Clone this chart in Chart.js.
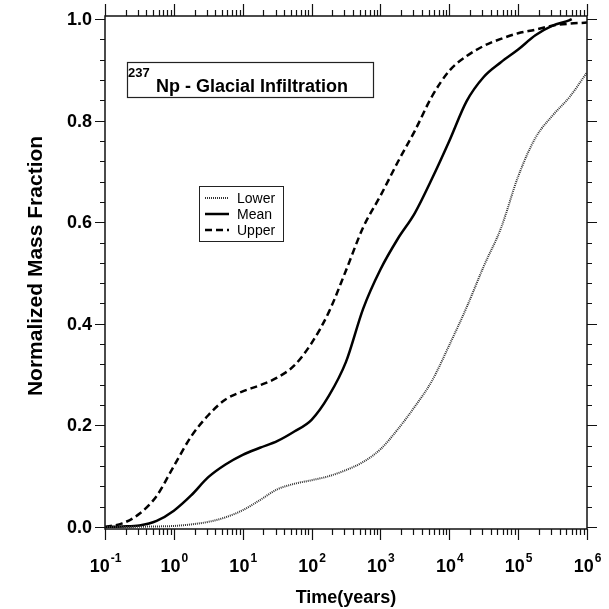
<!DOCTYPE html>
<html>
<head>
<meta charset="utf-8">
<script src="https://cdn.jsdelivr.net/npm/chart.js@4.4.1/dist/chart.umd.min.js"></script>
<style>
  html, body { margin: 0; padding: 0; background: #fff; }
  #wrap { width: 609px; height: 609px; }
</style>
</head>
<body>
<div id="wrap"><canvas id="chart" width="609" height="609"></canvas></div>
<script>
// ── Data ──────────────────────────────────────────────────────────────────────
const timeYears = [0.1, 0.178, 0.316, 0.562, 1, 1.78, 3.16, 5.62, 10, 17.8, 31.6, 56.2,
  100, 178, 316, 562, 1000, 1780, 3160, 5620, 1e4, 17800, 31600, 56200,
  1e5, 178000, 316000, 562000, 1e6];
const meanTime = [0.1, 0.178, 0.316, 0.562, 1, 1.78, 3.16, 5.62, 10, 17.8, 31.6, 56.2,
  100, 178, 316, 562, 1000, 1780, 3160, 5620, 1e4, 17800, 31600, 56200,
  1e5, 178000, 316000, 562000, 600000];

const lowerVals = [0, 0, 0.0005, 0.001, 0.002, 0.005, 0.01, 0.019, 0.033, 0.053, 0.074, 0.085,
  0.092, 0.1, 0.112, 0.128, 0.153, 0.192, 0.237, 0.288, 0.358, 0.432, 0.513, 0.588,
  0.69, 0.766, 0.81, 0.847, 0.895];
const meanVals = [0, 0.001, 0.003, 0.012, 0.032, 0.062, 0.098, 0.123, 0.142, 0.156, 0.169, 0.188,
  0.211, 0.258, 0.325, 0.43, 0.507, 0.567, 0.618, 0.686, 0.76, 0.838, 0.886, 0.915,
  0.94, 0.968, 0.987, 0.998, 1.0];
const upperVals = [0, 0.007, 0.026, 0.061, 0.12, 0.178, 0.22, 0.251, 0.267, 0.279, 0.294, 0.318,
  0.362, 0.423, 0.505, 0.59, 0.652, 0.718, 0.78, 0.848, 0.898, 0.927, 0.947, 0.961,
  0.972, 0.979, 0.987, 0.991, 0.993];

const seriesNames = ['Lower', 'Mean', 'Upper'];
const yTickVals = [0, 0.2, 0.4, 0.6, 0.8, 1.0];
const yTickLabels = ['0.0', '0.2', '0.4', '0.6', '0.8', '1.0'];
const xDecades = [-1, 0, 1, 2, 3, 4, 5, 6];

const pts = (xs, ys) => xs.map((x, i) => ({ x, y: ys[i] }));
const FONT = '"Liberation Sans", Arial, sans-serif';

// ── Frame, ticks, labels, title and legend ────────────────────────────────────
const framePlugin = {
  id: 'frame',
  afterDraw(chart) {
    const ctx = chart.ctx;
    const a = chart.chartArea;
    const xs = chart.scales.x, ys = chart.scales.y;
    ctx.save();
    ctx.strokeStyle = '#111';
    ctx.lineWidth = 1.5;
    ctx.strokeRect(a.left, a.top, a.right - a.left, a.bottom - a.top);

    ctx.lineWidth = 1.2;
    ctx.beginPath();
    // y ticks, left and right, outward
    for (let v = 0; v <= 1.0001; v += 0.04) {
      const py = Math.round(ys.getPixelForValue(v)) + 0.5;
      const major = Math.abs(v / 0.2 - Math.round(v / 0.2)) < 1e-6;
      const len = major ? 10 : 5;
      ctx.moveTo(a.left - len, py); ctx.lineTo(a.left, py);
      ctx.moveTo(a.right, py); ctx.lineTo(a.right + len, py);
    }
    // x ticks, bottom and top, outward
    xDecades.forEach(e => {
      const base = Math.pow(10, e);
      const px = Math.round(xs.getPixelForValue(base)) + 0.5;
      ctx.moveTo(px, a.bottom); ctx.lineTo(px, a.bottom + 11);
      ctx.moveTo(px, a.top); ctx.lineTo(px, a.top - 12);
      if (e < 6) {
        for (let k = 2; k <= 9; k++) {
          const mx = Math.round(xs.getPixelForValue(k * base)) + 0.5;
          ctx.moveTo(mx, a.bottom); ctx.lineTo(mx, a.bottom + 6);
          ctx.moveTo(mx, a.top); ctx.lineTo(mx, a.top - 6);
        }
      }
    });
    ctx.stroke();

    // y tick labels
    ctx.fillStyle = '#000';
    ctx.font = 'bold 18px ' + FONT;
    ctx.textAlign = 'right';
    ctx.textBaseline = 'middle';
    yTickVals.forEach((v, i) => {
      ctx.fillText(yTickLabels[i], a.left - 13, ys.getPixelForValue(v) + 1);
    });

    // x tick labels 10^n
    ctx.textBaseline = 'alphabetic';
    ctx.textAlign = 'left';
    xDecades.forEach(e => {
      const px = xs.getPixelForValue(Math.pow(10, e));
      ctx.font = 'bold 18px ' + FONT;
      const wb = ctx.measureText('10').width;
      ctx.font = 'bold 12px ' + FONT;
      const we = ctx.measureText(String(e)).width;
      const x0 = px - (wb + we) / 2;
      ctx.font = 'bold 18px ' + FONT;
      ctx.fillText('10', x0, 572);
      ctx.font = 'bold 12px ' + FONT;
      ctx.fillText(String(e), x0 + wb + 1, 562);
    });

    // axis titles
    ctx.font = 'bold 18px ' + FONT;
    ctx.textAlign = 'center';
    ctx.fillText('Time(years)', (a.left + a.right) / 2, 603);
    ctx.save();
    ctx.translate(42, 266);
    ctx.rotate(-Math.PI / 2);
    ctx.font = 'bold 21px ' + FONT;
    ctx.fillText('Normalized Mass Fraction', 0, 0);
    ctx.restore();

    // title box
    ctx.fillStyle = '#fff';
    ctx.fillRect(127, 62, 246, 35);
    ctx.strokeStyle = '#222';
    ctx.lineWidth = 1.2;
    ctx.strokeRect(127.5, 62.5, 246, 35);
    ctx.fillStyle = '#000';
    ctx.textAlign = 'left';
    ctx.font = 'bold 13px ' + FONT;
    ctx.fillText('237', 128, 77);
    ctx.font = 'bold 18px ' + FONT;
    ctx.fillText('Np - Glacial Infiltration', 156, 92);

    // legend box
    ctx.fillStyle = '#fff';
    ctx.fillRect(199, 186, 84, 55);
    ctx.strokeStyle = '#222';
    ctx.lineWidth = 1;
    ctx.strokeRect(199.5, 186.5, 84, 55);
    const rows = [198, 214, 230];
    chart.data.datasets.forEach((ds, i) => {
      ctx.save();
      ctx.strokeStyle = ds.borderColor;
      ctx.lineWidth = ds.borderWidth;
      ctx.setLineDash(ds.borderDash || []);
      ctx.beginPath();
      ctx.moveTo(205, rows[i]); ctx.lineTo(229, rows[i]);
      ctx.stroke();
      ctx.restore();
      ctx.fillStyle = '#000';
      ctx.font = '14px ' + FONT;
      ctx.textBaseline = 'middle';
      ctx.fillText(seriesNames[i], 237, rows[i] + 1);
    });
    ctx.restore();
  }
};

// ── Chart ─────────────────────────────────────────────────────────────────────
const ctx = document.getElementById('chart').getContext('2d');
new Chart(ctx, {
  type: 'line',
  data: {
    datasets: [
      { label: seriesNames[0], data: pts(timeYears, lowerVals), borderColor: '#333',
        borderWidth: 2, borderDash: [1, 1], pointRadius: 0, cubicInterpolationMode: 'monotone' },
      { label: seriesNames[1], data: pts(meanTime, meanVals), borderColor: '#000',
        borderWidth: 2.5, pointRadius: 0, cubicInterpolationMode: 'monotone' },
      { label: seriesNames[2], data: pts(timeYears, upperVals), borderColor: '#000',
        borderWidth: 2.5, borderDash: [7, 4], pointRadius: 0, cubicInterpolationMode: 'monotone' }
    ]
  },
  options: {
    responsive: false,
    animation: false,
    devicePixelRatio: 1,
    layout: { padding: { left: 105, top: 16, right: 22, bottom: 80 } },
    plugins: { legend: { display: false }, tooltip: { enabled: false } },
    scales: {
      x: { type: 'logarithmic', min: 0.1, max: 1e6, display: false },
      y: { type: 'linear', min: -0.004, max: 1.006, display: false }
    }
  },
  plugins: [framePlugin]
});
</script>
</body>
</html>
